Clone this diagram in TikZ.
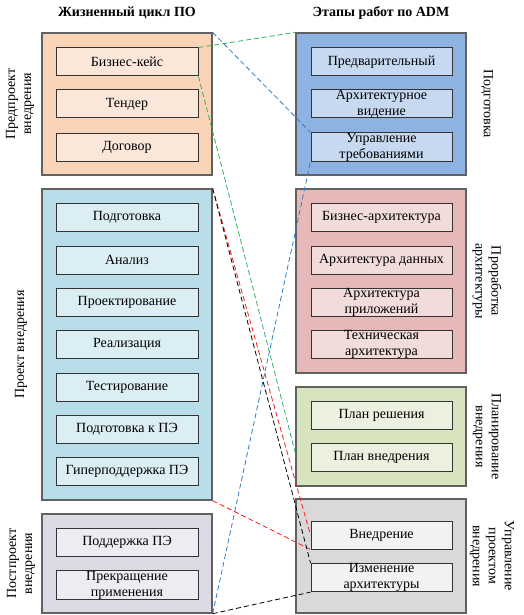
\documentclass[tikz,border=0pt]{standalone}
\usepackage{fontspec}
\setmainfont{Liberation Serif}
\usepackage{tikz}

\definecolor{preout}{HTML}{F9D4B6}
\definecolor{prein}{HTML}{FBE7DA}
\definecolor{prjout}{HTML}{B7DDE8}
\definecolor{prjin}{HTML}{DAEEF3}
\definecolor{postout}{HTML}{DDD9E4}
\definecolor{postin}{HTML}{EEECF2}
\definecolor{prepout}{HTML}{8DB3E2}
\definecolor{prepin}{HTML}{C6D9F1}
\definecolor{archout}{HTML}{E6B9B8}
\definecolor{archin}{HTML}{F2DCDB}
\definecolor{planout}{HTML}{D7E4BD}
\definecolor{planin}{HTML}{EBF1DE}
\definecolor{mgmtout}{HTML}{D9D9D9}
\definecolor{mgmtin}{HTML}{F2F2F2}
\definecolor{lgreen}{HTML}{2DB35A}
\definecolor{lblue}{HTML}{2F7BC8}
\definecolor{lred}{HTML}{F02020}

\begin{document}
\begin{tikzpicture}[x=1pt, y=-1pt,
	font=\fontsize{14}{16}\selectfont,
	stage/.style={shape=rectangle, draw=black!62, line width=1.3pt, minimum width=170pt, inner sep=0pt},
	task/.style={shape=rectangle, draw=black!80, line width=1pt, minimum width=142pt, minimum height=28pt, inner sep=0pt, align=center},
	side/.style={align=center},
	link/.style={dash pattern=on 5pt off 3pt, line width=0.8pt}]

	\useasboundingbox (0,0) rectangle (524,615);

	\node[font=\fontsize{14}{16}\selectfont\bfseries] (lifetitle) at (127, 13) {Жизненный цикл ПО};
	\node[font=\fontsize{14}{16}\selectfont\bfseries] (admtitle) at (381, 13) {Этапы работ по ADM};

	\node[stage, fill=preout, minimum height=142pt] (pre) at (127, 104) {};
	\node[stage, fill=prjout, minimum height=311pt] (prj) at (127, 344.5) {};
	\node[stage, fill=postout, minimum height=99pt] (post) at (127, 563.5) {};

	\node[stage, fill=prepout, minimum height=142pt] (prep) at (381, 104) {};
	\node[stage, fill=archout, minimum height=184pt] (arch) at (381, 281) {};
	\node[stage, fill=planout, minimum height=99pt] (plan) at (381, 436.5) {};
	\node[stage, fill=mgmtout, minimum height=114pt] (mgmt) at (381, 556) {};

	\node[side, rotate=90] (prelbl) at (20, 104) {Предпроект\\внедрения};
	\node[side, rotate=90] (prjlbl) at (21, 344.5) {Проект внедрения};
	\node[side, rotate=90] (postlbl) at (21, 563.5) {Постпроект\\внедрения};

	\node[side, rotate=-90] (preplbl) at (487, 104) {Подготовка};
	\node[side, rotate=-90] (archlbl) at (487, 281) {Проработка\\архитектуры};
	\node[side, rotate=-90] (planlbl) at (487, 436.5) {Планирование\\внедрения};
	\node[side, rotate=-90] (mgmtlbl) at (492, 556) {Управление\\проектом\\внедрения};

	\node[task, fill=prein] (case) at (127, 62)    {Бизнес-кейс};
	\node[task, fill=prein] (tender) at (127, 104) {Тендер};
	\node[task, fill=prein] (deal) at (127, 147)   {Договор};

	\node[task, fill=prjin] (prjprep) at (127, 217.5) {Подготовка};
	\node[task, fill=prjin] (analysis) at (127, 260)  {Анализ};
	\node[task, fill=prjin] (design) at (127, 302.5)  {Проектирование};
	\node[task, fill=prjin] (build) at (127, 344.5)   {Реализация};
	\node[task, fill=prjin] (test) at (127, 387)      {Тестирование};
	\node[task, fill=prjin] (golive) at (127, 429)    {Подготовка к ПЭ};
	\node[task, fill=prjin] (hyper) at (127, 471.5)   {Гиперподдержка ПЭ};

	\node[task, fill=postin] (support) at (127, 542) {Поддержка ПЭ};
	\node[task, fill=postin] (retire) at (127, 585)  {Прекращение\\применения};

	\node[task, fill=prepin, minimum width=141pt] (prelim) at (381.5, 62)  {Предварительный};
	\node[task, fill=prepin, minimum width=141pt] (vision) at (381.5, 104) {Архитектурное\\видение};
	\node[task, fill=prepin, minimum width=141pt] (reqs) at (381.5, 147)   {Управление\\требованиями};

	\node[task, fill=archin, minimum width=141pt] (busarch) at (381.5, 217.5) {Бизнес-архитектура};
	\node[task, fill=archin, minimum width=141pt] (dataarch) at (381.5, 260)  {Архитектура данных};
	\node[task, fill=archin, minimum width=141pt] (apparch) at (381.5, 302.5) {Архитектура\\приложений};
	\node[task, fill=archin, minimum width=141pt] (techarch) at (381.5, 344.5) {Техническая\\архитектура};

	\node[task, fill=planin, minimum width=141pt] (solplan) at (381.5, 415)   {План решения};
	\node[task, fill=planin, minimum width=141pt] (rollplan) at (381.5, 457.5) {План внедрения};

	\node[task, fill=mgmtin, minimum width=141pt] (rollout) at (381.5, 535)  {Внедрение};
	\node[task, fill=mgmtin, minimum width=141pt] (change) at (381.5, 577.5) {Изменение\\архитектуры};

	\coordinate (planedge) at (plan.west |- 0, 453);

	\path[link, lgreen] (case.north east) edge (prep.north west);
	\path[link, lgreen] (case.south east) edge (planedge);
	\path[link, lblue] (pre.north east) edge (reqs.north west);
	\path[link, lblue] (post.south east) edge (reqs.south west);
	\path[link, lred] (prj.north east) edge (rollout.west);
	\path[link, lred] (prj.south east) edge (rollout.south west);
	\path[link, black] (prj.north east) edge (change.north west);
	\path[link, black] (post.south east) edge (change.south west);

\end{tikzpicture}
\end{document}
